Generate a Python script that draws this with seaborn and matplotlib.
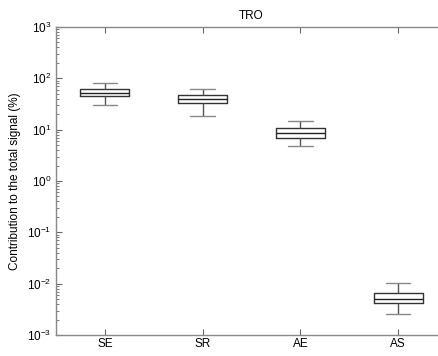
import numpy as np
import pandas as pd
import matplotlib
matplotlib.use("Agg")
import matplotlib.pyplot as plt
import seaborn as sns
from matplotlib.ticker import LogLocator, NullFormatter

categories = ["SE", "SR", "AE", "AS"]
# five-number summaries: min, q1, median, q3, max
se_vals = [30.0, 45.0, 52.0, 61.0, 80.0]
sr_vals = [18.7, 32.6, 39.5, 47.0, 61.0]
ae_vals = [4.8, 7.0, 8.5, 10.6, 14.7]
as_vals = [0.00258, 0.00411, 0.00514, 0.00646, 0.0104]
title = "TRO"
ylabel = "Contribution to the total signal (%)"

df = pd.DataFrame({
    "cat": np.repeat(categories, 5),
    "val": se_vals + sr_vals + ae_vals + as_vals,
})

sns.set_theme(style="white")
plt.rcParams["font.family"] = ["Liberation Sans", "DejaVu Sans"]

W, H = 439, 356
fig = plt.figure(figsize=(W / 100, H / 100), dpi=100)
ax = fig.add_axes([56 / W, (H - 335) / H, (447 - 56) / W, 308 / H])
ax.set_yscale("log")

sns.boxplot(
    data=df, x="cat", y="val", order=categories, ax=ax,
    whis=(0, 100), width=0.5, fill=False, color="#333333",
    linewidth=1.0,
    boxprops=dict(color="#333333"),
    medianprops=dict(color="#222222", linewidth=1.0),
    whiskerprops=dict(color="#555555", linewidth=1.0),
    capprops=dict(color="#888888", linewidth=1.0),
    showfliers=False,
)

ax.set_xlim(-0.5, 3.5)
ax.set_ylim(1e-3, 1e3)
ax.set_xlabel("")
ax.set_ylabel(ylabel, fontsize=8.5, color="black", labelpad=4)
ax.set_title(title, fontsize=8.5, pad=6, color="black")

ax.yaxis.set_major_locator(LogLocator(base=10, numticks=10))
ax.yaxis.set_minor_locator(LogLocator(base=10, subs=np.arange(2, 10), numticks=100))
ax.yaxis.set_minor_formatter(NullFormatter())

ax.tick_params(axis="both", which="major", direction="in", length=4, width=0.8,
               color="#666666", labelsize=8.5, labelcolor="black", top=True,
               left=True, bottom=True, right=False)
ax.tick_params(axis="y", which="minor", direction="in", length=2, width=0.6,
               color="#666666", left=True, right=False)
ax.tick_params(axis="x", pad=2)

for s in ["left", "top", "bottom"]:
    ax.spines[s].set_color("#888888")
    ax.spines[s].set_linewidth(1.0)
ax.spines["right"].set_visible(False)

fig.savefig("out.png", dpi=100)
